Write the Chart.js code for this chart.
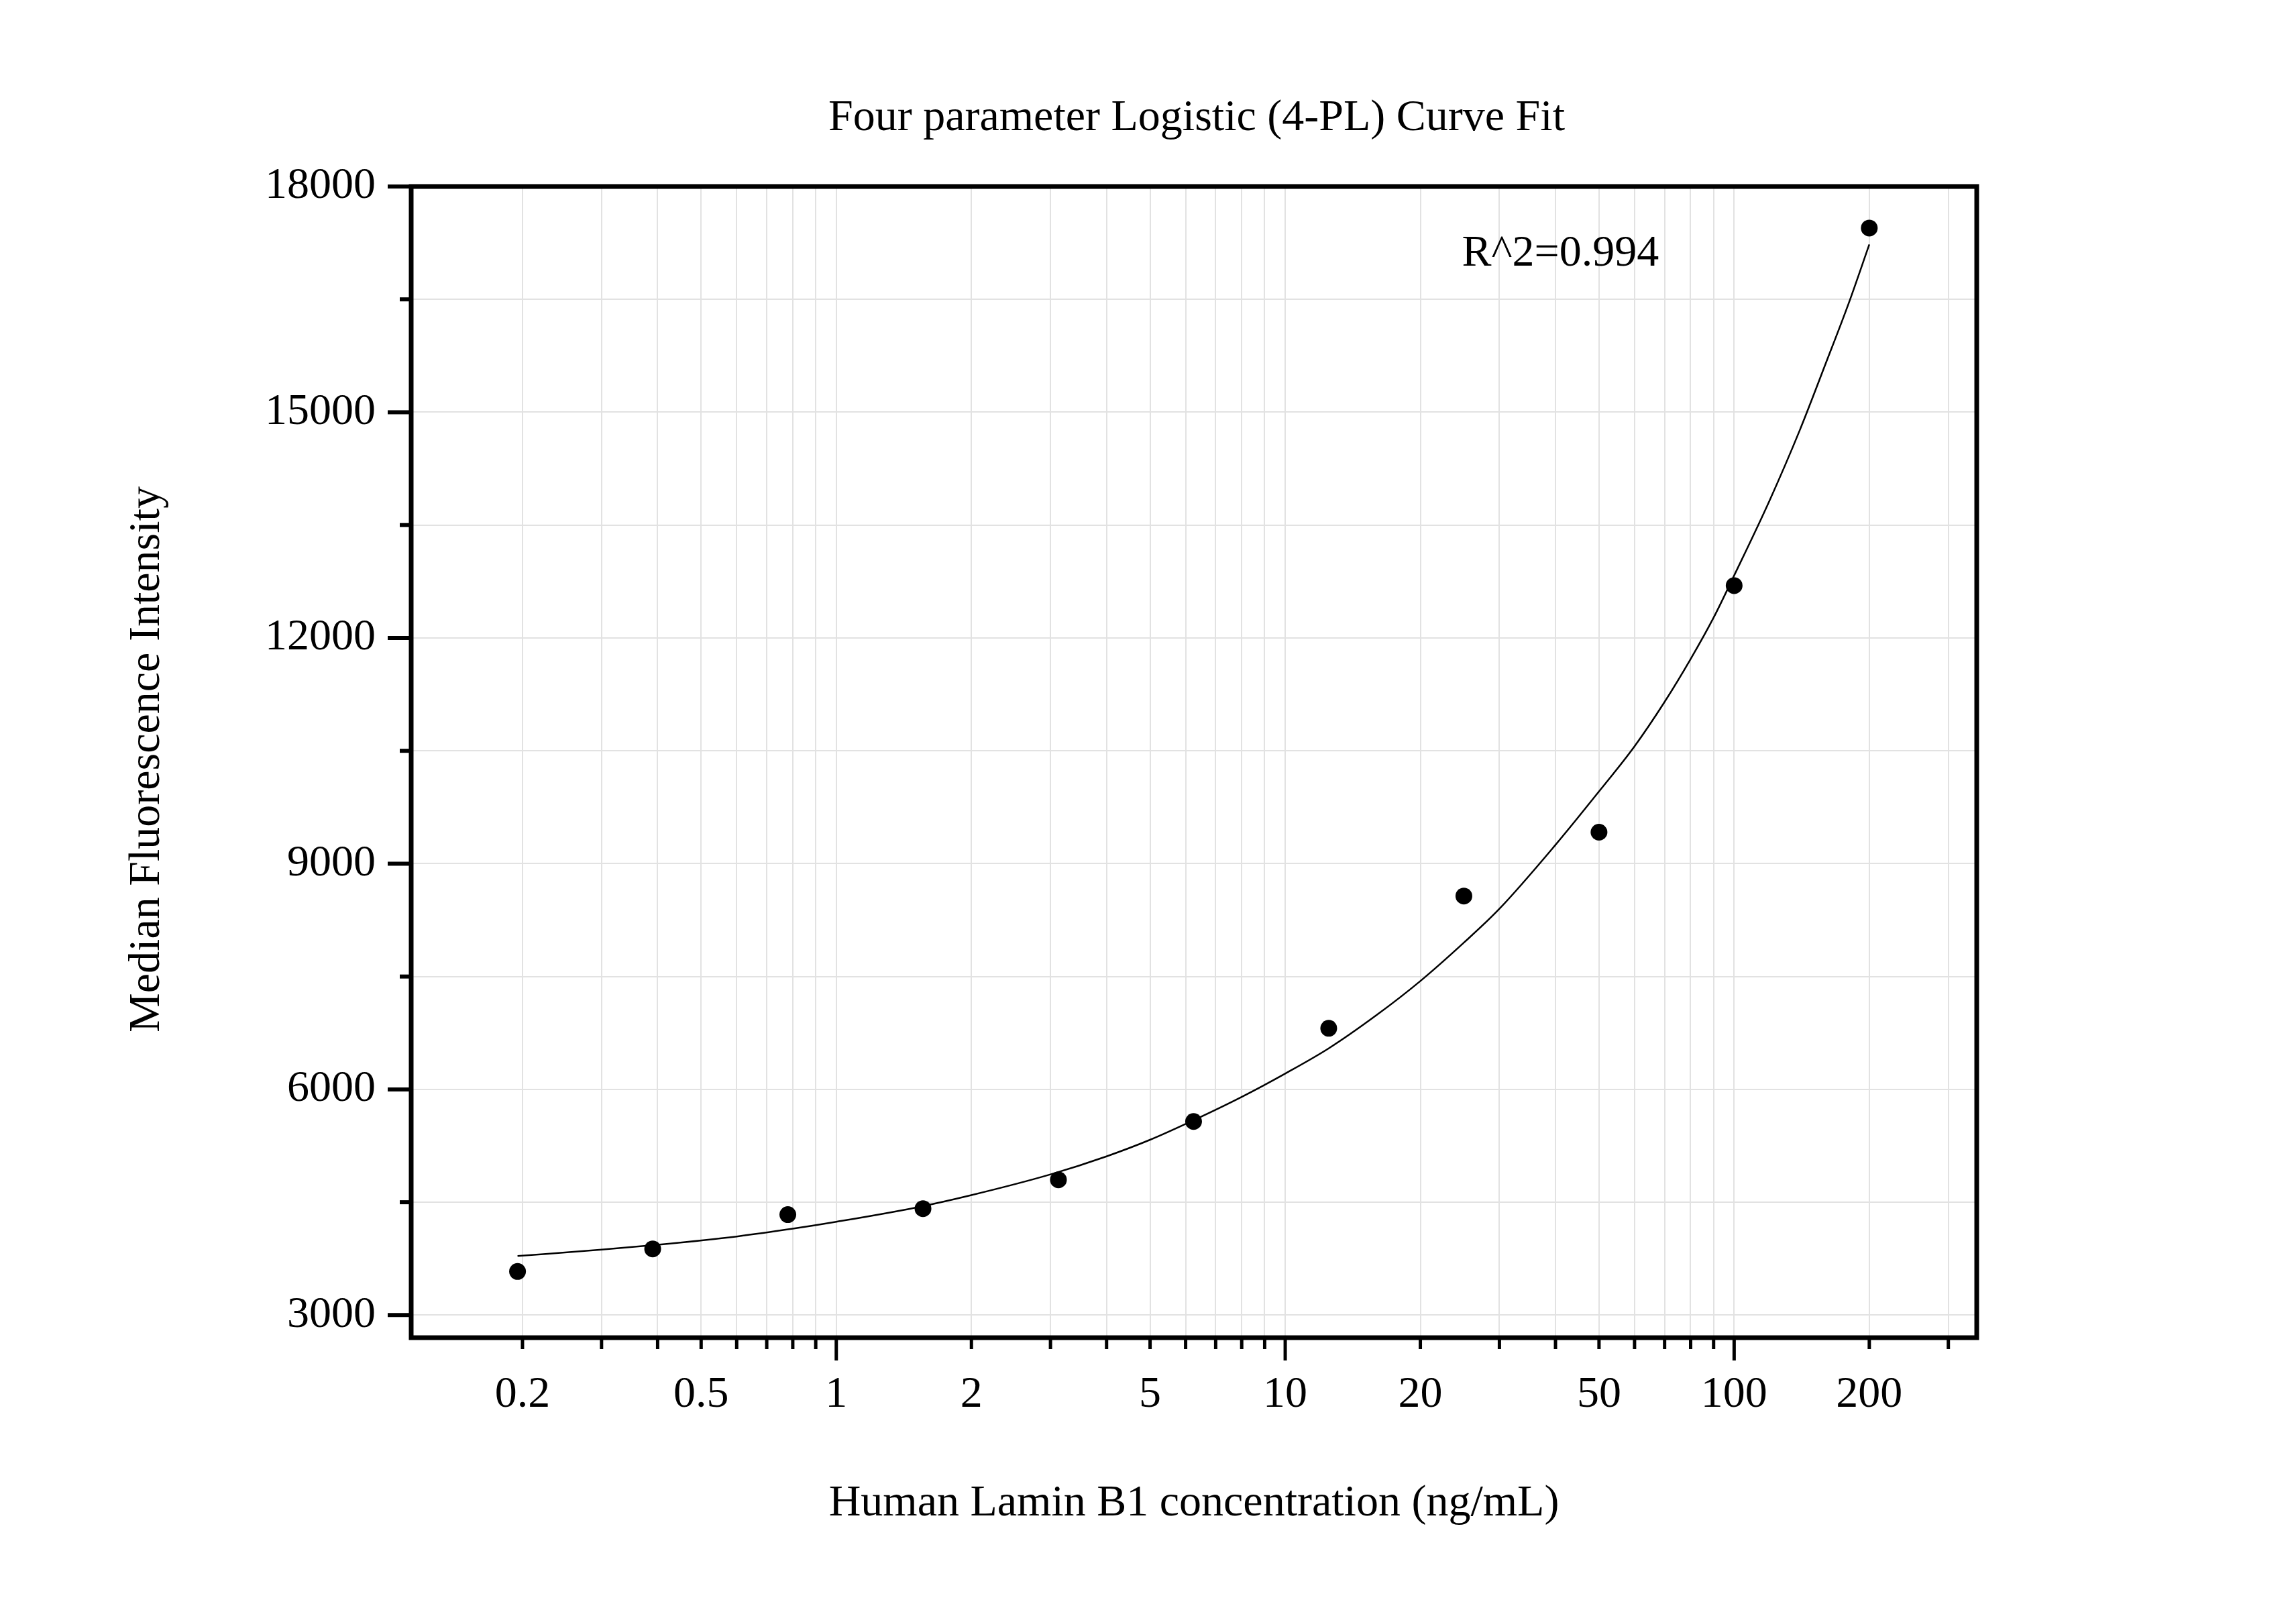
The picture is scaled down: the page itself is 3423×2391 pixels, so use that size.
<!DOCTYPE html>
<html>
<head>
<meta charset="utf-8">
<title>Four parameter Logistic (4-PL) Curve Fit</title>
<script src="https://cdn.jsdelivr.net/npm/chart.js@4.4.1/dist/chart.umd.min.js"></script>
<style>
  html, body { margin: 0; padding: 0; background: #fff; }
  #wrap { width: 3423px; height: 2391px; }
</style>
</head>
<body>
<div id="wrap"><canvas id="chart" width="3423" height="2391"></canvas></div>
<script>
// Standards (ng/mL) and measured median fluorescence intensity
const concentrations = [0.195, 0.39, 0.78, 1.56, 3.125, 6.25, 12.5, 25, 50, 100, 200];
const intensities = [3580, 3880, 4335, 4415, 4798, 5573, 6812, 8570, 9418, 12696, 17448];

// Fitted 4-PL curve
const curveX = [0.195, 0.3, 0.4, 0.6, 0.8, 1, 1.5, 2, 3, 4, 5, 6.25, 8, 10, 12.5, 16, 20, 25,
  30, 40, 50, 60, 70, 80, 90, 100, 120, 140, 160, 180, 200];
const curveY = [3785, 3870, 3935, 4045, 4148, 4240, 4428, 4595, 4870, 5110, 5330, 5590, 5900, 6210, 6545, 6990, 7440, 7950,
  8400, 9250, 9960, 10560, 11150, 11720, 12270, 12830, 13830, 14760, 15650, 16450, 17230];

// Axis ticks
const xTicks = [0.2, 0.3, 0.4, 0.5, 0.6, 0.7, 0.8, 0.9, 1, 2, 3, 4, 5, 6, 7, 8, 9,
  10, 20, 30, 40, 50, 60, 70, 80, 90, 100, 200, 300];
const xTickLabels = ['0.2', '0.5', '1', '2', '5', '10', '20', '50', '100', '200'];
const xMajorTicks = [1, 10, 100];
const yTicks = [3000, 4500, 6000, 7500, 9000, 10500, 12000, 13500, 15000, 16500, 18000];
const yTickLabels = ['3000', '6000', '9000', '12000', '15000', '18000'];

const fontFamily = "'Liberation Serif', 'Times New Roman', serif";
const fontSize = 66;

// Draw the frame, outward ticks and the text labels
const framePlugin = {
  id: 'frame',
  afterDraw(chart) {
    const { ctx, chartArea: area, scales } = chart;
    const xs = scales.x, ys = scales.y;
    ctx.save();
    ctx.strokeStyle = '#000';

    ctx.lineWidth = 5;
    xTicks.forEach(v => {
      const px = xs.getPixelForValue(v);
      const len = xMajorTicks.includes(v) ? 34 : 17;
      ctx.beginPath();
      ctx.moveTo(px, area.bottom);
      ctx.lineTo(px, area.bottom + len);
      ctx.stroke();
    });
    ctx.lineWidth = 6;
    yTicks.forEach(v => {
      const py = ys.getPixelForValue(v);
      const len = yTickLabels.includes(String(v)) ? 35 : 17;
      ctx.beginPath();
      ctx.moveTo(area.left, py);
      ctx.lineTo(area.left - len, py);
      ctx.stroke();
    });

    ctx.lineWidth = 7;
    ctx.strokeRect(area.left, area.top, area.right - area.left, area.bottom - area.top);

    ctx.fillStyle = '#000';
    ctx.font = `${fontSize}px ${fontFamily}`;
    ctx.textBaseline = 'alphabetic';
    ctx.textAlign = 'center';
    const cx = (area.left + area.right) / 2;
    ctx.fillText('Four parameter Logistic (4-PL) Curve Fit', cx + 4, 194);
    ctx.fillText('Human Lamin B1 concentration (ng/mL)', cx, 2259);

    ctx.save();
    ctx.translate(237, 1132);
    ctx.rotate(-Math.PI / 2);
    ctx.fillText('Median Fluorescence Intensity', 0, 0);
    ctx.restore();

    ctx.textAlign = 'left';
    ctx.fillText('R^2=0.994', xs.getPixelForValue(24.75), ys.getPixelForValue(16950));
    ctx.restore();
  }
};

const points = concentrations.map((x, i) => ({ x, y: intensities[i] }));
const curve = curveX.map((x, i) => ({ x, y: curveY[i] }));

new Chart(document.getElementById('chart'), {
  type: 'scatter',
  data: {
    datasets: [
      {
        label: 'Standards',
        data: points,
        pointRadius: 12.5,
        pointBackgroundColor: '#000',
        pointBorderWidth: 0,
        showLine: false
      },
      {
        label: '4-PL fit',
        data: curve,
        showLine: true,
        pointRadius: 0,
        borderColor: '#000',
        borderWidth: 2.5,
        cubicInterpolationMode: 'monotone'
      }
    ]
  },
  options: {
    responsive: false,
    devicePixelRatio: 1,
    animation: false,
    layout: { padding: { top: 278, right: 476, left: 0, bottom: 0 } },
    plugins: { legend: { display: false }, tooltip: { enabled: false } },
    scales: {
      x: {
        type: 'logarithmic',
        min: 0.113,
        max: 347,
        afterFit: s => { s.height = 397; },
        afterBuildTicks: s => { s.ticks = xTicks.map(v => ({ value: v })); },
        border: { display: false },
        grid: { color: '#e2e2e2', lineWidth: 2, drawTicks: false },
        ticks: {
          autoSkip: false,
          maxRotation: 0,
          minRotation: 0,
          padding: 46,
          color: '#000',
          font: { family: fontFamily, size: fontSize },
          callback: v => xTickLabels.includes(String(v)) ? String(v) : ''
        }
      },
      y: {
        min: 2700,
        max: 18000,
        afterFit: s => { s.width = 613; },
        afterBuildTicks: s => { s.ticks = yTicks.map(v => ({ value: v })); },
        border: { display: false },
        grid: { color: '#e2e2e2', lineWidth: 2, drawTicks: false },
        ticks: {
          autoSkip: false,
          padding: 53,
          color: '#000',
          font: { family: fontFamily, size: fontSize },
          callback: v => yTickLabels.includes(String(v)) ? String(v) : ''
        }
      }
    }
  },
  plugins: [framePlugin]
});
</script>
</body>
</html>
